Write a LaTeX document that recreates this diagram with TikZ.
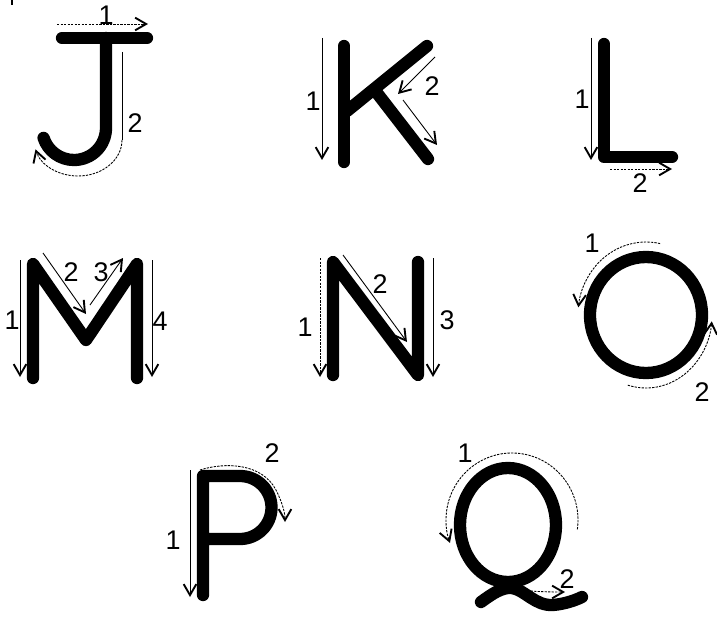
\documentclass[tikz,border=0pt]{standalone}
\usepackage{fontspec}
\setsansfont{Liberation Sans}
\usepackage{tikz}
\usetikzlibrary{arrows.meta}

\begin{document}
\begin{tikzpicture}[
  x=0.03cm, y=-0.03cm,
  stroke/.style={line width=10.5pt, line cap=round, line join=round},
  guide/.style={line width=0.75pt, -{Straight Barb[length=3.3mm, width=3.8mm, line width=1.6pt]}},
  dguide/.style={guide, dash pattern=on 2pt off 1pt},
  plain/.style={line width=0.75pt},
  num/.style={inner sep=0pt, font=\sffamily\fontsize{23}{23}\selectfont}
]
\useasboundingbox (0,0) rectangle (717,619);
\draw[line width=1.2pt] (12,0) -- (12,5);

% J
\draw[stroke] (62,38) -- (147,38);
\draw[stroke] (106,38) -- (106,128) arc[start angle=0, end angle=162, radius=32];
\draw[dguide] (57,24) -- (148,24);
\draw[plain] (122,52) -- (122,140);
\draw[dguide] (122,140) arc[start angle=0, end angle=165, x radius=44, y radius=36];
\node[num] (j1) at (106,15) {1};
\node[num] (j2) at (135,123) {2};

% K
\draw[stroke] (344,46) -- (344,162);
\draw[stroke] (427,46) -- (347,111);
\draw[stroke] (377,93) -- (428,159);
\draw[guide] (322,38) -- (322,160);
\draw[guide] (435,57) -- (398,94);
\draw[guide] (403,100) -- (437,145);
\node[num] (k1) at (313,101) {1};
\node[num] (k2) at (432,86) {2};

% L
\draw[stroke] (604,44) -- (604,157) -- (672,157);
\draw[guide] (591,38) -- (591,160);
\draw[dguide] (610,169) -- (672,169);
\node[num] (l1) at (582,99) {1};
\node[num] (l2) at (640,183) {2};

% M
\draw[stroke] (33,378) -- (33,264) -- (86,340) -- (137,264) -- (137,378);
\draw[guide] (20,260) -- (20,377);
\draw[guide] (43,253) -- (86,314);
\draw[guide] (90,305) -- (123,258);
\draw[guide] (152,260) -- (152,377);
\node[num] (m1) at (12,320) {1};
\node[num] (m2) at (71,272) {2};
\node[num] (m3) at (101,272) {3};
\node[num] (m4) at (160,321) {4};

% N
\draw[stroke] (333,375) -- (333,262) -- (418,375) -- (418,262);
\draw[dguide] (320,258) -- (320,377);
\draw[guide] (343,255) -- (407,342);
\draw[guide] (433,258) -- (433,377);
\node[num] (n1) at (305,327) {1};
\node[num] (n2) at (380,284) {2};
\node[num] (n3) at (447,320) {3};

% O
\coordinate (oc) at (646,315);
\draw[stroke] (oc) ellipse[x radius=56, y radius=58];
\draw[dguide] ([shift={(-78:68 and 73)}]oc) arc[start angle=-78, end angle=-174, x radius=68, y radius=73];
\draw[dguide] ([shift={(106:66 and 73)}]oc) arc[start angle=106, end angle=5, x radius=66, y radius=73];
\node[num] (o1) at (592,243) {1};
\node[num] (o2) at (702,392) {2};

% P
\draw[stroke] (203,595) -- (203,476) -- (240,476) arc[start angle=-90, end angle=90, radius=31.5] -- (203,539);
\draw[guide] (190,470) -- (190,597);
\draw[dguide] (200,470) .. controls (225,462) and (262,463) .. (276,490) .. controls (282,502) and (285,512) .. (285,522);
\node[num] (p1) at (173,540) {1};
\node[num] (p2) at (272,453) {2};

% Q
\coordinate (qc) at (508,525);
\draw[stroke] (qc) ellipse[x radius=48, y radius=57];
\draw[stroke] (481,602) .. controls (492,594) and (502,587) .. (512,588) .. controls (525,590) and (535,606) .. (553,605) .. controls (565,604) and (576,600) .. (582,597);
\draw[dguide] ([shift={(8:66 and 67)}]512,520) arc[start angle=8, end angle=-200, x radius=66, y radius=67];
\draw[dguide] (492,575) .. controls (510,578) and (515,590) .. (530,591) .. controls (545,592) and (555,592) .. (565,592);
\node[num] (q1) at (465,453) {1};
\node[num] (q2) at (567,579) {2};
\end{tikzpicture}
\end{document}
